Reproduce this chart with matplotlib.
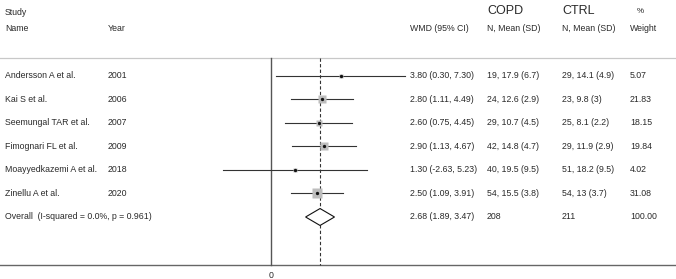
import matplotlib
matplotlib.use('Agg')
import matplotlib.pyplot as plt
import matplotlib.transforms as mtransforms
import numpy as np

plt.rcParams['font.family'] = ['Liberation Sans', 'DejaVu Sans']

# 数据
names = ['Andersson A et al.', 'Kai S et al.', 'Seemungal TAR et al.', 'Fimognari FL et al.',
         'Moayyedkazemi A et al.', 'Zinellu A et al.']
years = ['2001', '2006', '2007', '2009', '2018', '2020']
wmd = [3.80, 2.80, 2.60, 2.90, 1.30, 2.50]
lo = [0.30, 1.11, 0.75, 1.13, -2.63, 1.09]
hi = [7.30, 4.49, 4.45, 4.67, 5.23, 3.91]
copd = ['19, 17.9 (6.7)', '24, 12.6 (2.9)', '29, 10.7 (4.5)', '42, 14.8 (4.7)', '40, 19.5 (9.5)', '54, 15.5 (3.8)']
ctrl = ['29, 14.1 (4.9)', '23, 9.8 (3)', '25, 8.1 (2.2)', '29, 11.9 (2.9)', '51, 18.2 (9.5)', '54, 13 (3.7)']
weight = [5.07, 21.83, 18.15, 19.84, 4.02, 31.08]
overall = [2.68, 1.89, 3.47]
overall_label = 'Overall  (I-squared = 0.0%, p = 0.961)'
n_copd_total, n_ctrl_total = '208', '211'

fig = plt.figure(figsize=(6.76, 2.79), dpi=100)
ax = fig.add_axes([0, 0, 1, 1])
ppu = 18.3  # 像素/单位
ax.set_xlim(-271 / ppu, (676 - 271) / ppu)
ax.set_ylim(1 + 203 / 23.5, 1 - 76 / 23.5)
ax.axis('off')

tc = '#2a2a2a'
fs = 6.3
tr = mtransforms.blended_transform_factory(ax.transAxes, ax.transData)
W = 676.0

rows = np.arange(1, len(names) + 1)
y_over = len(names) + 1
top, bot = 0.234, 9.04

# 表头
ax.text(5 / W, -1.72, 'Study', transform=tr, fontsize=fs, color=tc, va='center')
ax.text(5 / W, -1.0, 'Name', transform=tr, fontsize=fs, color=tc, va='center')
ax.text(108 / W, -1.0, 'Year', transform=tr, fontsize=fs, color=tc, va='center')
ax.text(410 / W, -1.0, 'WMD (95% CI)', transform=tr, fontsize=fs, color=tc, va='center')
ax.text(487 / W, -1.0, 'N, Mean (SD)', transform=tr, fontsize=fs, color=tc, va='center')
ax.text(562 / W, -1.0, 'N, Mean (SD)', transform=tr, fontsize=fs, color=tc, va='center')
ax.text(630 / W, -1.0, 'Weight', transform=tr, fontsize=fs, color=tc, va='center')
ax.text(487 / W, -1.78, 'COPD', transform=tr, fontsize=9, color=tc, va='center')
ax.text(562 / W, -1.78, 'CTRL', transform=tr, fontsize=9, color=tc, va='center')
ax.text(637 / W, -1.75, '%', transform=tr, fontsize=fs - 0.5, color=tc, va='center')

# 分隔线
ax.axhline(top, color='#c8c8c8', lw=0.9)
ax.axhline(bot, color='#666666', lw=1.0)
ax.plot([0, 0], [top, bot], color='#555555', lw=1.0)
ax.plot([overall[0], overall[0]], [top, bot], color='#333333', lw=0.8, ls=(0, (3, 2)))
ax.text(0, bot + 0.45, '0', fontsize=fs, color=tc, ha='center', va='center')

# 各研究
for i, r in enumerate(rows):
    ax.plot([lo[i], hi[i]], [r, r], color='#333333', lw=0.8, zorder=2)
    ms = 6.5 * np.sqrt(weight[i] / max(weight))
    ax.plot(wmd[i], r, marker='s', ms=ms, color='#bdbdbd', mec='none', zorder=3)
    ax.plot(wmd[i], r, marker='o', ms=2.4, color='#111111', mec='none', zorder=4)
    ax.text(5 / W, r, names[i], transform=tr, fontsize=fs, color=tc, va='center')
    ax.text(108 / W, r, years[i], transform=tr, fontsize=fs, color=tc, va='center')
    ax.text(410 / W, r, '%.2f (%.2f, %.2f)' % (wmd[i], lo[i], hi[i]), transform=tr,
            fontsize=fs, color=tc, va='center')
    ax.text(487 / W, r, copd[i], transform=tr, fontsize=fs, color=tc, va='center')
    ax.text(562 / W, r, ctrl[i], transform=tr, fontsize=fs, color=tc, va='center')
    ax.text(630 / W, r, '%.2f' % weight[i], transform=tr, fontsize=fs, color=tc, va='center')

# 合并效应菱形
h = 0.36
ax.fill([overall[1], overall[0], overall[2], overall[0]],
        [y_over, y_over - h, y_over, y_over + h], facecolor='white', edgecolor='#111111', lw=0.8, zorder=3)
ax.text(5 / W, y_over, overall_label, transform=tr, fontsize=fs, color=tc, va='center')
ax.text(410 / W, y_over, '%.2f (%.2f, %.2f)' % tuple(overall), transform=tr, fontsize=fs, color=tc, va='center')
ax.text(487 / W, y_over, n_copd_total, transform=tr, fontsize=fs, color=tc, va='center')
ax.text(562 / W, y_over, n_ctrl_total, transform=tr, fontsize=fs, color=tc, va='center')
ax.text(630 / W, y_over, '100.00', transform=tr, fontsize=fs, color=tc, va='center')

fig.savefig('out.png', dpi=100)
